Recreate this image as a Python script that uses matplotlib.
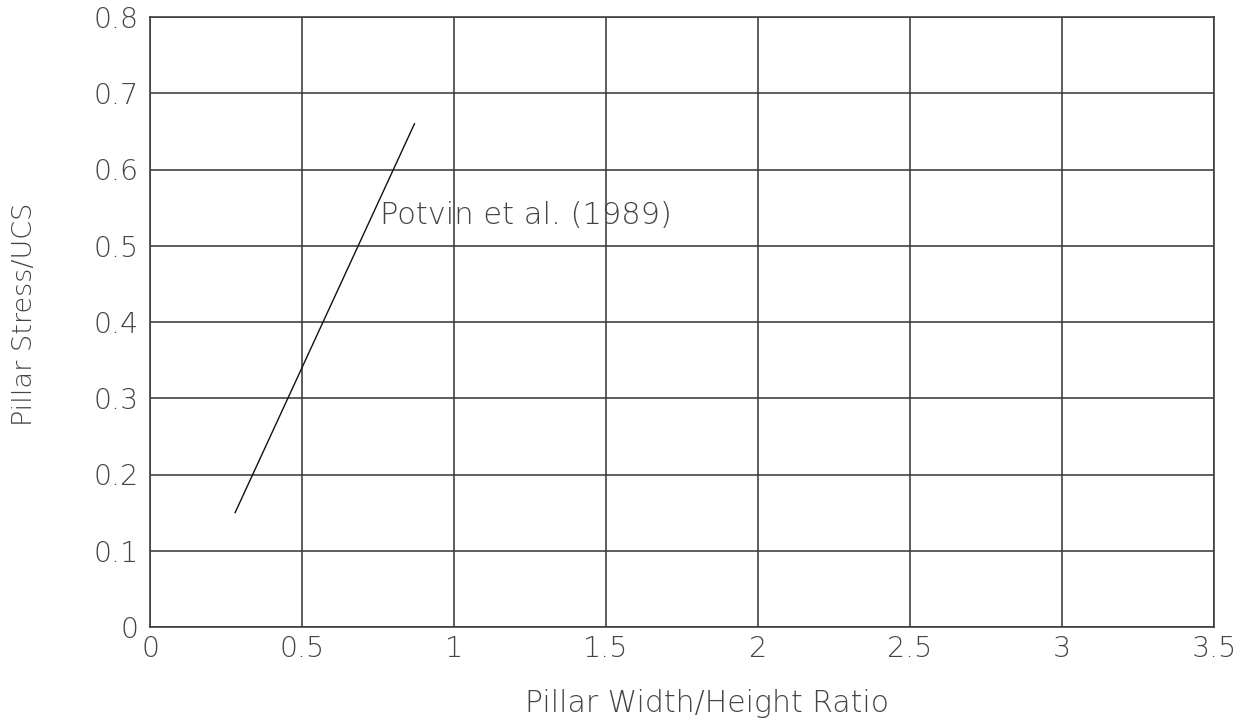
import matplotlib
matplotlib.use("Agg")
import matplotlib.pyplot as plt

# Potvin et al. (1989) pillar strength line
ratio = [0.28, 0.87]
stress = [0.15, 0.66]

x_ticks = [0, 0.5, 1, 1.5, 2, 2.5, 3, 3.5]
x_tick_labels = ["0", "0.5", "1", "1.5", "2", "2.5", "3", "3.5"]
y_ticks = [0, 0.1, 0.2, 0.3, 0.4, 0.5, 0.6, 0.7, 0.8]
y_tick_labels = ["0", "0.1", "0.2", "0.3", "0.4", "0.5", "0.6", "0.7", "0.8"]

plt.rcParams["font.family"] = ["DejaVu Sans"]
text_color = "#444444"
grid_color = "#3a3a3a"
weight = 200

fig = plt.figure(figsize=(12.44, 7.21), dpi=100)
ax = fig.add_axes([150 / 1244, 1 - 627 / 721, 1064 / 1244, 610 / 721])

ax.plot(ratio, stress, color="#111111", linewidth=1.0)
ax.text(0.757, 0.529, "Potvin et al. (1989)", fontsize=22, fontweight=weight,
        color=text_color, ha="left", va="baseline")

ax.set_xlim(0, 3.5)
ax.set_ylim(0, 0.8)
ax.set_xticks(x_ticks)
ax.set_xticklabels(x_tick_labels)
ax.set_yticks(y_ticks)
ax.set_yticklabels(y_tick_labels)
ax.tick_params(length=0, labelsize=20.5, labelcolor=text_color)
ax.tick_params(axis="x", pad=6)
ax.tick_params(axis="y", pad=8)
for lab in ax.get_xticklabels() + ax.get_yticklabels():
    lab.set_fontweight(weight)

ax.grid(True, color=grid_color, linewidth=1.15)
for s in ax.spines.values():
    s.set_color(grid_color)
    s.set_linewidth(1.15)

fig.text(25 / 1244, 1 - 314 / 721, "Pillar Stress/UCS", rotation=90, fontsize=19.5,
         fontweight=weight, color=text_color, ha="center", va="center")
fig.text(707 / 1244, 1 - 704 / 721, "Pillar Width/Height Ratio", fontsize=21.5,
         fontweight=weight, color=text_color, ha="center", va="center")

fig.savefig("out.png", dpi=100)
